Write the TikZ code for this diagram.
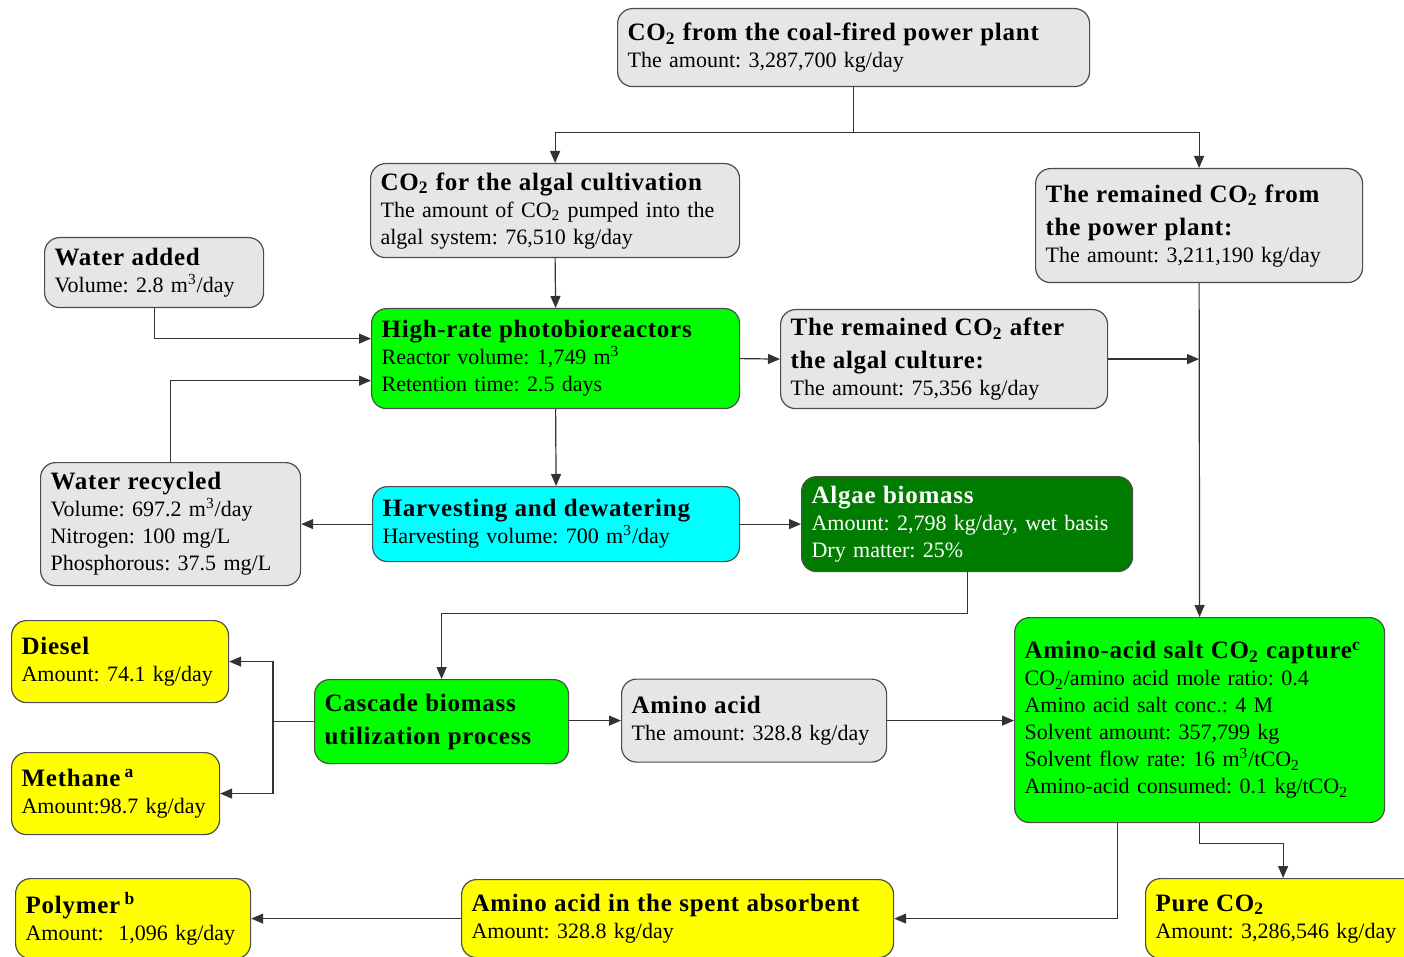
\documentclass[tikz,border=0pt]{standalone}
\usepackage{fontspec}
\setmainfont{Liberation Serif}
\newfontfamily\ttlfamily{Liberation Serif}[LetterSpace=3]
\usetikzlibrary{arrows.meta}

\definecolor{limefill}{RGB}{0,255,0}
\definecolor{aquafill}{RGB}{0,255,255}
\definecolor{darkfill}{RGB}{0,125,0}
\definecolor{yelfill}{RGB}{255,255,0}
\definecolor{greyfill}{RGB}{230,230,230}

\newcommand{\ttl}[1]{{\ttlfamily\bfseries\fontsize{12.5}{16}\selectfont #1}}
\newcommand{\cotwo}{CO\textsubscript{2}}

\begin{document}
\frenchspacing
\begin{tikzpicture}[
    x=0.5pt, y=-0.5pt,
    box/.style={draw=black!70, line width=0.6pt, rounded corners=7.5pt, anchor=north west, align=left, inner xsep=5pt, inner ysep=2pt, font=\fontsize{11}{13.5}\selectfont},
    grey/.style={box, fill=greyfill},
    lime/.style={box, fill=limefill},
    aqua/.style={box, fill=aquafill},
    dark/.style={box, fill=darkfill, text=white},
    yel/.style={box, fill=yelfill},
    arrow/.style={-{Triangle[length=6pt,width=5pt]}, draw=black!80, line width=0.6pt}
]
    \useasboundingbox (0,0) rectangle (1404,957);

    % CO2 supply
    \node[grey, text width=226pt, minimum height=39pt] (coal) at (617,8) {\ttl{\cotwo{} from the coal-fired power plant}\\The amount: 3,287,700 kg/day};
    \node[grey, text width=174.5pt, minimum height=47pt] (alg) at (370,163) {\ttl{\cotwo{} for the algal cultivation}\\The amount of \cotwo{} pumped into the\\algal system: 76,510 kg/day};
    \node[grey, text width=153.5pt, minimum height=57pt] (rempp) at (1035,168) {\ttl{The remained \cotwo{} from}\\[3pt]\ttl{the power plant:}\\The amount: 3,211,190 kg/day};

    % Algal cultivation
    \node[grey, text width=99.5pt, minimum height=35pt] (wadd) at (44,237) {\ttl{Water added}\\Volume: 2.8 m\textsuperscript{3}/day};
    \node[lime, text width=174pt, minimum height=50pt] (pbr) at (371,308) {\ttl{High-rate photobioreactors}\\Reactor volume: 1,749 m\textsuperscript{3}\\Retention time: 2.5 days};
    \node[grey, text width=153.5pt, minimum height=49.5pt] (remalg) at (780,309) {\ttl{The remained \cotwo{} after}\\[3pt]\ttl{the algal culture:}\\The amount: 75,356 kg/day};
    \node[grey, text width=120pt, minimum height=61.5pt] (wrec) at (40,462) {\ttl{Water recycled}\\Volume: 697.2 m\textsuperscript{3}/day\\Nitrogen: 100 mg/L\\Phosphorous: 37.5 mg/L};
    \node[aqua, text width=173.5pt, minimum height=37.5pt] (harv) at (372,486) {\ttl{Harvesting and dewatering}\\Harvesting volume: 700 m\textsuperscript{3}/day};
    \node[dark, text width=155.5pt, minimum height=47.5pt] (algae) at (801,476) {\ttl{Algae biomass}\\Amount: 2,798 kg/day, wet basis\\Dry matter: 25\%};

    % Biomass use
    \node[yel, text width=98.5pt, minimum height=41pt] (diesel) at (11,620) {\ttl{Diesel}\\Amount: 74.1 kg/day};
    \node[yel, text width=94pt, minimum height=41pt] (methane) at (11,752) {\ttl{Methane\,\textsuperscript{a}}\\Amount:98.7 kg/day};
    \node[lime, text width=117pt, minimum height=42pt] (casc) at (314,679) {\ttl{Cascade biomass}\\[3pt]\ttl{utilization process}};
    \node[grey, text width=122.5pt, minimum height=41.5pt] (amino) at (621,678.5) {\ttl{Amino acid}\\The amount: 328.8 kg/day};
    \node[lime, text width=175pt, minimum height=102.5pt] (capt) at (1014,617) {\ttl{Amino-acid salt \cotwo{} capture\textsuperscript{c}}\\\cotwo/amino acid mole ratio: 0.4\\Amino acid salt conc.: 4 M\\Solvent amount: 357,799 kg\\Solvent flow rate: 16 m\textsuperscript{3}/t\cotwo\\Amino-acid consumed: 0.1 kg/t\cotwo};

    % Products
    \node[yel, text width=107.5pt, minimum height=40pt] (polymer) at (15,878) {\ttl{Polymer\,\textsuperscript{b}}\\Amount:\ \ 1,096 kg/day};
    \node[yel, text width=206pt, minimum height=39pt] (spent) at (461,879) {\ttl{Amino acid in the spent absorbent}\\Amount: 328.8 kg/day};
    \node[yel, text width=127.5pt, minimum height=40pt] (pure) at (1145,878) {\ttl{Pure \cotwo}\\Amount: 3,286,546 kg/day};

    % Flows
    \draw[arrow] (coal.south) -- ++(0,45) -| (alg.north);
    \draw[arrow] (coal.south) -- ++(0,45) -| (rempp.north);
    \draw[arrow] (alg.south) -- (pbr.north);
    \draw[arrow] (wadd.south) |- ([yshift=10pt]pbr.west);
    \draw[arrow] (wrec.north) |- ([yshift=-11pt]pbr.west);
    \draw[arrow] (pbr.east) -- (remalg.west);
    \draw[arrow] (remalg.east) -- (remalg.east -| rempp.south);
    \draw[arrow] (rempp.south) -- (capt.north);
    \draw[arrow] (pbr.south) -- (harv.north);
    \draw[arrow] (harv.west) -- (wrec.east);
    \draw[arrow] (harv.east) -- (algae.west);
    \draw[arrow] (algae.south) -- ++(0,41) -| (casc.north);
    \draw[arrow] (casc.west) -- ++(-41,0) |- (diesel.east);
    \draw[arrow] (casc.west) -- ++(-41,0) |- (methane.east);
    \draw[arrow] (casc.east |- amino.west) -- (amino.west);
    \draw[arrow] (amino.east) -- (amino.east -| capt.west);
    \draw[arrow] ([xshift=-41pt]capt.south) |- (spent.east);
    \draw[arrow] (capt.south) -- ++(0,20) -| (pure.north);
    \draw[arrow] (spent.west) -- (polymer.east);

\end{tikzpicture}
\end{document}
